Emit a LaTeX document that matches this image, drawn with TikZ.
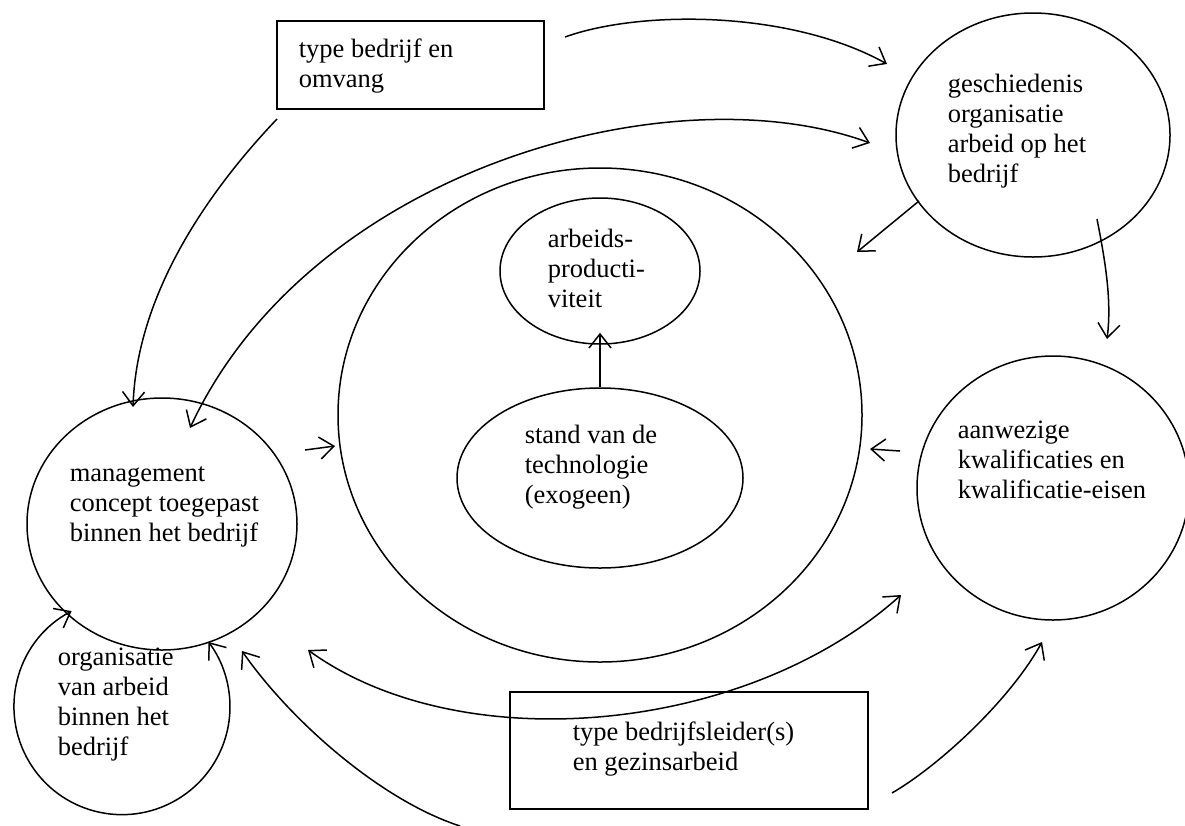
\documentclass[tikz,border=0pt]{standalone}
\usepackage{fontspec}
\setmainfont{Liberation Serif}
\usetikzlibrary{shapes.geometric,arrows.meta}
\begin{document}
\begin{tikzpicture}[x=1pt,y=-1pt,
  line width=1.5pt,
  shp/.style={draw, ellipse, inner sep=0pt},
  box/.style={draw, rectangle, inner sep=0pt},
  lbl/.style={anchor=north west, inner sep=0pt, align=left, font=\fontsize{26.5}{30}\selectfont},
  arr/.style={-{Straight Barb[length=14pt,width=22pt]}},
  darr/.style={{Straight Barb[length=14pt,width=22pt]}-{Straight Barb[length=14pt,width=22pt]}},
]
\useasboundingbox (0,0) rectangle (1185,825);

% shapes
\node[box, minimum width=267pt, minimum height=88pt] (bedrijf) at (410.5,65) {};
\node[box, minimum width=358pt, minimum height=117pt] (leider) at (689,750.5) {};
\node[shp, minimum width=270pt, minimum height=252pt] (mgmt) at (162,524) {};
\node[circle, minimum size=216pt, inner sep=0pt] (org) at (121,708) {};
\node[shp, minimum width=524pt, minimum height=494pt] (big) at (600,415) {};
\node[shp, minimum width=200pt, minimum height=146pt] (arb) at (600,271) {};
\node[shp, minimum width=286pt, minimum height=180pt] (stand) at (600,478) {};
\node[shp, minimum width=274pt, minimum height=244pt] (gesch) at (1033,135) {};
\node[shp, minimum width=272pt, minimum height=264pt] (aanw) at (1053,488) {};

% texts
\node[lbl] (tbedrijf) at (298,36) {\strut type bedrijf en\\omvang};
\node[lbl] (tleider) at (572,719) {\strut type bedrijfsleider(s)\\en gezinsarbeid};
\node[lbl] (tgesch) at (947,71) {\strut geschiedenis\\organisatie\\arbeid op het\\bedrijf};
\node[lbl] (tarb) at (547,226) {\strut arbeids-\\producti-\\viteit};
\node[lbl] (tstand) at (524,422) {\strut stand van de\\technologie\\(exogeen)};
\node[lbl] (tmgmt) at (69,460) {\strut management\\concept toegepast\\binnen het bedrijf};
\node[lbl] (taanw) at (957,417) {\strut aanwezige\\kwalificaties en\\kwalificatie-eisen};
\node[lbl] (torg) at (57,644) {\strut organisatie\\van arbeid\\binnen het\\bedrijf};

% connector end points
\coordinate (a1s) at (565,37);   \coordinate (a1e) at (887,64);
\coordinate (a2s) at (277,119);  \coordinate (a2e) at (133,407);
\coordinate (a3s) at (190,428);  \coordinate (a3e) at (870,143);
\coordinate (a4s) at (919,201);  \coordinate (a4e) at (857,252);
\coordinate (a5s) at (1097,219); \coordinate (a5e) at (1107,339);
\coordinate (a6s) at (305,450);  \coordinate (a6e) at (335,446);
\coordinate (a7s) at (900,451);  \coordinate (a7e) at (870,449);
\coordinate (a9s) at (308,650);  \coordinate (a9e) at (901,595);
\coordinate (a10s) at (892,793); \coordinate (a10e) at (1042,642);
\coordinate (a11s) at (460,826); \coordinate (a11e) at (242,651);

% connectors
\draw[arr] (a1s) .. controls (640,10) and (790,10) .. (a1e);
\draw[arr] (a2s) .. controls (217,182) and (137,287) .. (a2e);
\draw[darr] (a3s) .. controls (310,170) and (670,70) .. (a3e);
\draw[arr] (a4s) -- (a4e);
\draw[arr] (a5s) .. controls (1105,260) and (1112,300) .. (a5e);
\draw[arr] (a6s) -- (a6e);
\draw[arr] (a7s) -- (a7e);
\draw[arr, shorten >=-12pt] (stand.north) -- (arb.south);
\draw[darr] (a9s) .. controls (460,760) and (745,735) .. (a9e);
\draw[arr] (a10s) .. controls (940,765) and (1010,700) .. (a10e);
\draw[arr] (a11s) .. controls (380,800) and (290,720) .. (a11e);
\draw[darr] (org.117.8) arc[start angle=117.8, end angle=396.8, radius=108pt];
\end{tikzpicture}
\end{document}
